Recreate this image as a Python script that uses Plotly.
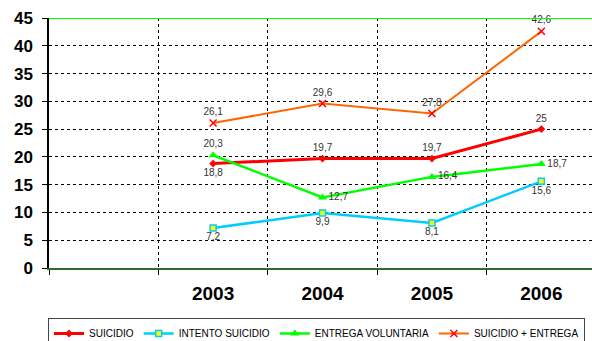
import plotly.graph_objects as go

years = ["2003", "2004", "2005", "2006"]
year_pos = [1, 2, 3, 4]

suicidio = [18.8, 19.7, 19.7, 25]
intento = [7.2, 9.9, 8.1, 15.6]
entrega = [20.3, 12.7, 16.4, 18.7]
suma = [26.1, 29.6, 27.8, 42.6]

y_ticks = [0, 5, 10, 15, 20, 25, 30, 35, 40, 45]


def fmt(v):
    return (f"{v:g}").replace(".", ",")


FONT = "Arial, Liberation Sans, sans-serif"
label_font = dict(family=FONT, size=10, color="#333333")

fig = go.Figure()

fig.add_trace(go.Scatter(
    x=year_pos, y=suicidio, name="SUICIDIO", mode="lines+markers+text",
    line=dict(color="#FF0000", width=3),
    marker=dict(symbol="diamond", size=6, color="#FF0000"),
    text=[fmt(v) for v in suicidio],
    textposition=["bottom center", "top center", "top center", "top center"],
    textfont=label_font, cliponaxis=False,
))
fig.add_trace(go.Scatter(
    x=year_pos, y=intento, name="INTENTO SUICIDIO", mode="lines+markers+text",
    line=dict(color="#00CCFF", width=2.5),
    marker=dict(symbol="square", size=6, color="#FFFF00", line=dict(color="#00CCFF", width=1.5)),
    text=[fmt(v) for v in intento],
    textposition="bottom center",
    textfont=label_font, cliponaxis=False,
))
fig.add_trace(go.Scatter(
    x=year_pos, y=entrega, name="ENTREGA VOLUNTARIA", mode="lines+markers+text",
    line=dict(color="#00FF00", width=2.5),
    marker=dict(symbol="triangle-up", size=8, color="#00FF00"),
    text=[fmt(v) for v in entrega],
    textposition=["top center", "middle right", "middle right", "middle right"],
    textfont=label_font, cliponaxis=False,
))
fig.add_trace(go.Scatter(
    x=year_pos, y=suma, name="SUICIDIO + ENTREGA", mode="lines+markers+text",
    line=dict(color="#FF6600", width=2),
    marker=dict(symbol="x-thin", size=7, color="#FF0000", line=dict(color="#FF0000", width=1.5)),
    text=[fmt(v) for v in suma],
    textposition="top center",
    textfont=label_font, cliponaxis=False,
))

# bright green frame line along the top of the plot area
fig.add_shape(type="line", xref="paper", yref="y", x0=0, x1=1, y0=45, y1=45,
              line=dict(color="#00FF00", width=2))

fig.update_layout(
    width=592, height=341,
    margin=dict(l=49, r=0, t=18, b=73),
    paper_bgcolor="white", plot_bgcolor="white",
    font=dict(family=FONT, color="black"),
    showlegend=True,
    legend=dict(
        orientation="h",
        xref="container", x=48 / 592, xanchor="left",
        yref="container", y=1 - 318 / 341, yanchor="top",
        font=dict(size=10, color="black", family=FONT),
        bordercolor="#444444", borderwidth=1,
        itemwidth=30, tracegroupgap=0,
    ),
)

fig.update_xaxes(
    range=[-0.5, 4.463],
    tickmode="array", tickvals=year_pos, ticktext=years,
    ticks="", showgrid=False, ticklabelstandoff=7,
    tickfont=dict(size=19, color="black", family=FONT, weight="bold"),
    showline=True, linecolor="#2E6B2E", linewidth=2,
    minor=dict(tickmode="array", tickvals=[-0.5, 0.5, 1.5, 2.5, 3.5], ticks="outside",
               ticklen=5, tickcolor="black", showgrid=True,
               gridcolor="black", griddash="dot", gridwidth=1),
    zeroline=False, fixedrange=True,
)
fig.update_yaxes(
    range=[0, 45], tickmode="array", tickvals=y_ticks,
    ticks="outside", ticklen=5, tickcolor="black", ticklabelstandoff=6,
    tickfont=dict(size=17, color="black", family=FONT, weight="bold"),
    showgrid=True, gridcolor="black", griddash="dot", gridwidth=1,
    showline=True, linecolor="black", linewidth=1.5,
    zeroline=False, fixedrange=True,
)

fig.write_html("out.html")
